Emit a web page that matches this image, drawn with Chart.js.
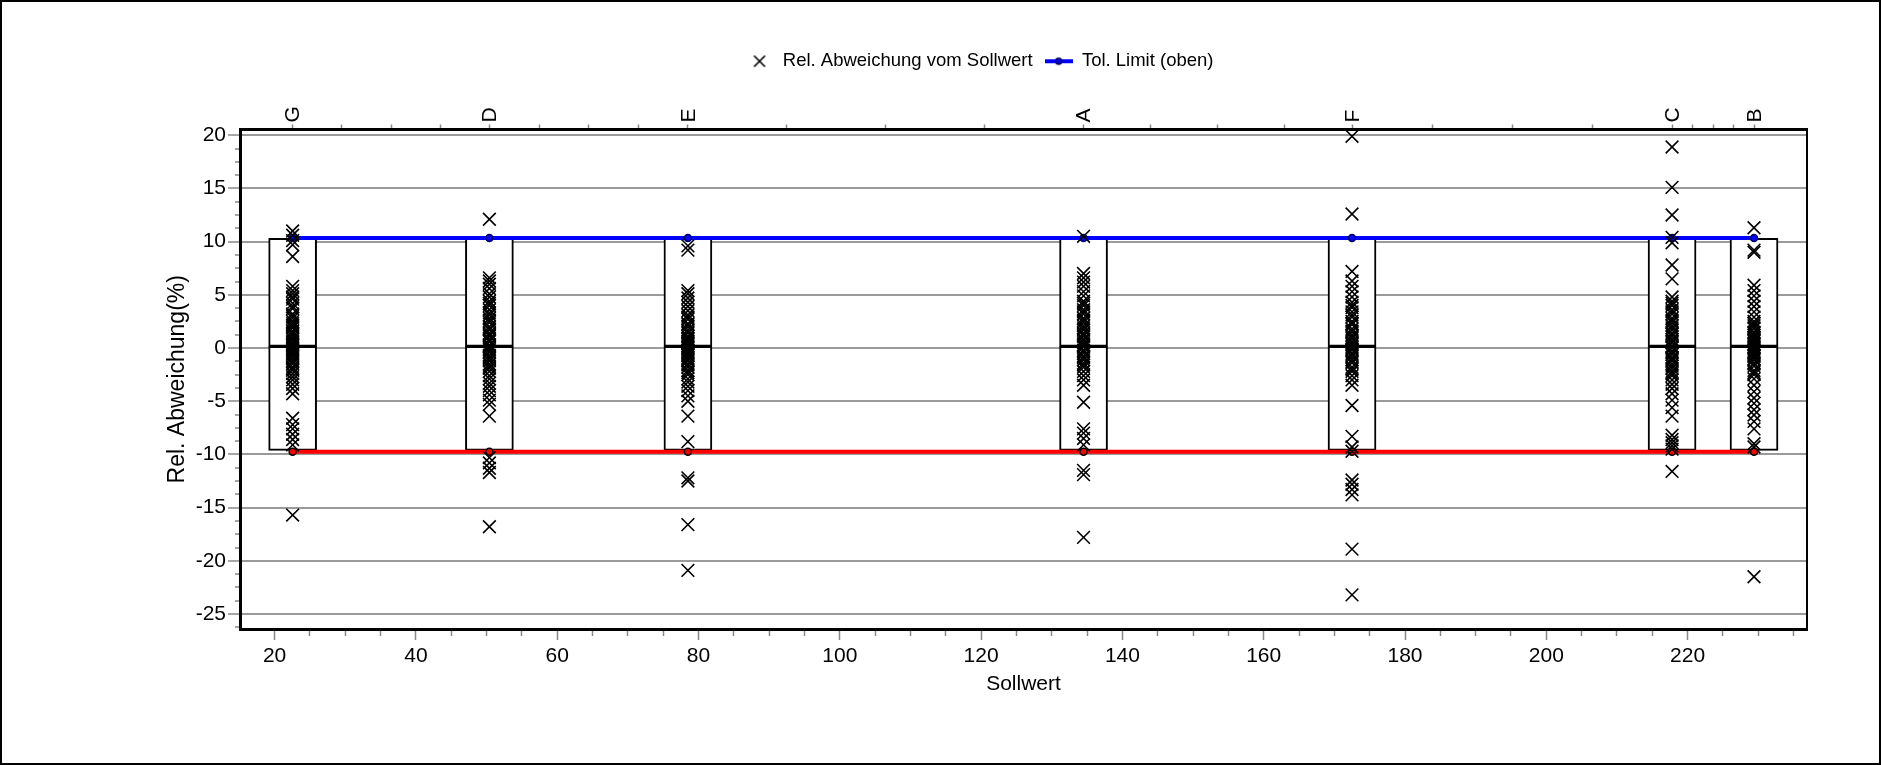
<!DOCTYPE html>
<html>
<head>
<meta charset="utf-8">
<title>Rel. Abweichung vom Sollwert</title>
<script src="https://cdn.jsdelivr.net/npm/chart.js@4.4.1/dist/chart.umd.min.js"></script>
<style>
  html, body { margin: 0; padding: 0; background: #fff; }
  #frame { position: absolute; left: 0; top: 0; width: 1881px; height: 765px; border: 2px solid #000; box-sizing: border-box; }
  canvas { display: block; }
</style>
</head>
<body>
<div id="frame"><canvas id="chart" width="1877" height="761"></canvas></div>
<script>
// samples and their Sollwert (x position)
const categories = ['G', 'D', 'E', 'A', 'F', 'C', 'B'];
const sollwert = [22.55, 50.4, 78.5, 134.5, 172.5, 217.8, 229.4];

// relative deviation in %
const devG = [11.0, 10.6, 10.1, 9.7, 8.6, 5.8, 5.4, 5.1, 4.8, 4.6, 4.2, 3.9, 3.7, 3.2, 3.0, 2.8, 2.5, 2.3, 2.1, 1.9, 1.6, 1.4, 1.3, 1.1, 0.9, 0.8, 0.6, 0.4, 0.3, 0.2, 0.0, -0.1, -0.3, -0.5, -0.6, -0.8, -1.0, -1.2, -1.3, -1.5, -1.8, -2.0, -2.1, -2.4, -2.7, -3.0, -3.4, -3.8, -4.3, -6.6, -7.2, -7.6, -8.1, -8.6, -9.1, -15.7];
const devD = [12.1, 6.6, 6.3, 6.0, 5.6, 5.1, 4.8, 4.4, 4.2, 4.0, 3.6, 3.3, 3.1, 2.8, 2.6, 2.4, 2.0, 1.8, 1.7, 1.4, 1.2, 1.1, 0.8, 0.7, 0.6, 0.3, 0.2, 0.1, -0.1, -0.3, -0.4, -0.7, -0.9, -1.0, -1.2, -1.5, -1.7, -1.9, -2.2, -2.6, -2.9, -3.3, -3.6, -4.0, -4.4, -4.9, -5.3, -6.4, -10.3, -10.8, -11.3, -11.7, -16.8];
const devE = [9.6, 9.2, 5.4, 5.1, 4.7, 4.3, 3.9, 3.5, 3.1, 2.9, 2.7, 2.3, 2.2, 2.0, 1.7, 1.5, 1.4, 1.1, 0.9, 0.8, 0.6, 0.5, 0.4, 0.2, 0.1, 0.0, -0.2, -0.3, -0.4, -0.6, -0.7, -0.9, -1.1, -1.2, -1.5, -1.6, -1.8, -2.1, -2.3, -2.5, -2.9, -3.2, -3.6, -4.0, -4.5, -5.0, -6.4, -8.8, -12.2, -12.5, -16.6, -20.9];
const devA = [10.5, 7.0, 6.6, 6.2, 5.8, 5.3, 4.9, 4.4, 4.2, 4.0, 3.6, 3.4, 3.2, 2.8, 2.6, 2.4, 2.1, 1.9, 1.7, 1.4, 1.2, 1.1, 0.8, 0.7, 0.5, 0.3, 0.2, 0.1, -0.2, -0.3, -0.5, -0.8, -0.9, -1.1, -1.4, -1.6, -1.8, -2.2, -2.6, -3.0, -3.5, -5.1, -7.6, -8.0, -8.5, -9.1, -11.5, -11.9, -17.8];
const devF = [19.9, 12.6, 7.2, 6.3, 5.8, 5.3, 4.8, 4.3, 4.0, 3.8, 3.4, 3.1, 2.9, 2.5, 2.3, 2.2, 1.8, 1.6, 1.5, 1.2, 1.0, 0.9, 0.6, 0.4, 0.3, 0.1, -0.1, -0.2, -0.5, -0.6, -0.8, -1.1, -1.3, -1.4, -1.8, -2.0, -2.2, -2.6, -3.0, -3.5, -5.4, -8.3, -9.3, -9.7, -12.4, -12.8, -13.3, -13.8, -18.9, -23.2];
const devC = [18.9, 15.1, 12.5, 10.4, 9.9, 7.8, 6.5, 4.8, 4.4, 4.2, 4.0, 3.6, 3.4, 3.2, 2.8, 2.6, 2.4, 2.1, 1.9, 1.7, 1.4, 1.3, 1.1, 0.8, 0.6, 0.5, 0.2, 0.1, 0.0, -0.3, -0.4, -0.6, -0.9, -1.0, -1.2, -1.5, -1.7, -1.9, -2.2, -2.4, -2.6, -3.0, -3.4, -3.8, -4.3, -4.9, -5.6, -6.4, -8.2, -8.6, -8.9, -9.2, -9.5, -11.6];
const devB = [11.3, 9.2, 9.0, 5.9, 5.4, 4.9, 4.4, 3.9, 3.4, 2.9, 2.5, 2.3, 2.1, 1.9, 1.8, 1.5, 1.4, 1.2, 1.0, 0.9, 0.7, 0.6, 0.4, 0.3, 0.1, 0.0, -0.2, -0.4, -0.5, -0.7, -0.8, -1.0, -1.1, -1.4, -1.5, -1.7, -2.1, -2.3, -2.5, -2.9, -3.5, -4.1, -4.7, -5.2, -5.8, -6.3, -6.9, -7.6, -9.0, -9.3, -21.5];
const deviations = [devG, devD, devE, devA, devF, devC, devB];

// tolerance limits and box bounds per sample
const tolUpper = [10.35, 10.35, 10.35, 10.35, 10.35, 10.35, 10.35];
const tolLower = [-9.75, -9.75, -9.75, -9.75, -9.75, -9.75, -9.75];
const boxHigh = [10.3, 10.3, 10.3, 10.3, 10.3, 10.3, 10.3];
const boxMid = [0.15, 0.15, 0.15, 0.15, 0.15, 0.15, 0.15];
const boxLow = [-9.62, -9.62, -9.62, -9.62, -9.62, -9.62, -9.62];

// labelled ticks
const xLabelValues = [20, 40, 60, 80, 100, 120, 140, 160, 180, 200, 220];
const yLabelValues = [-25, -20, -15, -10, -5, 0, 5, 10, 15, 20];

const xMin = 15.1, xMax = 236.9;
const yMin = -26.41, yMax = 20.54;

const seriesLabel = 'Rel. Abweichung vom Sollwert';
const tolLabel = 'Tol. Limit (oben)';

// layout (canvas px)
const padL = 150, padR = 72, padT = 38;

Chart.defaults.font.family = '"Liberation Sans", Arial, sans-serif';
Chart.defaults.color = '#000';

const points = [];
categories.forEach((c, i) => {
  deviations[i].forEach(v => points.push({ x: sollwert[i], y: v }));
});

// ticks of the top axis: each sample plus three between neighbours
const topTickValues = [];
sollwert.forEach((s, i) => {
  topTickValues.push(s);
  if (i < sollwert.length - 1) {
    for (let k = 1; k < 4; k++) topTickValues.push(s + (sollwert[i + 1] - s) * k / 4);
  }
});

// legend icons
function legendIcon(kind) {
  const c = document.createElement('canvas');
  c.width = 28; c.height = 14;
  const g = c.getContext('2d');
  if (kind === 'cross') {
    g.strokeStyle = '#000'; g.lineWidth = 1.6;
    g.beginPath();
    g.moveTo(8.5, 1.5); g.lineTo(19.5, 12.5);
    g.moveTo(19.5, 1.5); g.lineTo(8.5, 12.5);
    g.stroke();
  } else {
    g.strokeStyle = '#0000ff'; g.lineWidth = 4;
    g.beginPath(); g.moveTo(0, 7); g.lineTo(28, 7); g.stroke();
    g.fillStyle = '#0000ff'; g.strokeStyle = '#000060'; g.lineWidth = 1.5;
    g.beginPath(); g.arc(14, 7, 3, 0, Math.PI * 2); g.fill(); g.stroke();
  }
  return c;
}

const isMajor = (list, c) => c.tick && list.includes(c.tick.value);

new Chart(document.getElementById('chart'), {
  type: 'scatter',
  data: {
    datasets: [
      {
        label: seriesLabel,
        data: points,
        order: 1,
        pointStyle: 'crossRot',
        pointRadius: 9,
        pointHoverRadius: 9,
        borderColor: '#000',
        backgroundColor: '#000',
        borderWidth: 1.6
      },
      {
        type: 'line',
        label: tolLabel,
        data: sollwert.map((x, i) => ({ x: x, y: tolUpper[i] })),
        order: 2,
        borderColor: '#0000ff',
        borderWidth: 4,
        pointRadius: 3.5,
        pointBackgroundColor: '#0000ff',
        pointBorderColor: '#000060',
        pointBorderWidth: 1.5,
        fill: false,
        tension: 0
      },
      {
        type: 'line',
        label: 'Tol. Limit (unten)',
        data: sollwert.map((x, i) => ({ x: x, y: tolLower[i] })),
        order: 2,
        borderColor: '#ff0000',
        borderWidth: 4,
        pointRadius: 3.5,
        pointBackgroundColor: '#ff0000',
        pointBorderColor: '#000',
        pointBorderWidth: 1.5,
        fill: false,
        tension: 0
      },
      {
        type: 'bar',
        label: 'box oben',
        data: sollwert.map((x, i) => ({ x: x, y: [boxMid[i], boxHigh[i]] })),
        order: 3,
        grouped: false,
        barThickness: 48,
        backgroundColor: '#fff',
        borderColor: '#000',
        borderWidth: 2,
        borderSkipped: false
      },
      {
        type: 'bar',
        label: 'box unten',
        data: sollwert.map((x, i) => ({ x: x, y: [boxLow[i], boxMid[i]] })),
        order: 3,
        grouped: false,
        barThickness: 48,
        backgroundColor: '#fff',
        borderColor: '#000',
        borderWidth: 2,
        borderSkipped: false
      }
    ]
  },
  options: {
    responsive: false,
    animation: false,
    devicePixelRatio: 1,
    events: [],
    layout: { padding: { left: padL, right: padR, top: padT, bottom: 0 } },
    plugins: {
      tooltip: { enabled: false },
      legend: {
        position: 'top',
        align: 'center',
        labels: {
          font: { size: 18.5 },
          color: '#000',
          padding: 12,
          usePointStyle: true,
          pointStyleWidth: 28,
          generateLabels: () => [
            { text: seriesLabel, pointStyle: legendIcon('cross'), fillStyle: '#000', strokeStyle: '#000', lineWidth: 0, hidden: false, datasetIndex: 0, fontColor: '#000' },
            { text: tolLabel, pointStyle: legendIcon('line'), fillStyle: '#0000ff', strokeStyle: '#0000ff', lineWidth: 0, hidden: false, datasetIndex: 1, fontColor: '#000' }
          ]
        }
      }
    },
    scales: {
      x: {
        type: 'linear',
        position: 'bottom',
        min: xMin,
        max: xMax,
        offset: false,
        afterFit: (s) => { s.height = 134; },
        border: { color: '#000', width: 3 },
        grid: {
          offset: false,
          drawOnChartArea: false,
          tickLength: 11,
          tickColor: '#888',
          tickWidth: 1.5,
          tickBorderDash: (c) => isMajor(xLabelValues, c) ? [] : [5, 100]
        },
        ticks: {
          stepSize: 5,
          includeBounds: false,
          autoSkip: false,
          maxRotation: 0,
          padding: 4,
          font: { size: 21 },
          callback: (v) => xLabelValues.includes(v) ? v : ''
        },
        title: { display: true, text: 'Sollwert', font: { size: 21 }, padding: { top: 0, bottom: 66 } }
      },
      x2: {
        type: 'linear',
        position: 'top',
        min: xMin,
        max: xMax,
        offset: false,
        afterBuildTicks: (s) => { s.ticks = topTickValues.map(v => ({ value: v })); },
        afterFit: (s) => { s.height = 49; },
        border: { color: '#000', width: 3 },
        grid: { offset: false, drawOnChartArea: false, tickLength: 5, tickColor: '#888', tickWidth: 1.5 },
        ticks: {
          autoSkip: false,
          minRotation: 90,
          maxRotation: 90,
          padding: 2,
          labelOffset: 26,
          font: { size: 21 },
          callback: (v) => {
            const i = sollwert.indexOf(v);
            return i >= 0 ? categories[i] : '';
          }
        }
      },
      y: {
        type: 'linear',
        position: 'left',
        min: yMin,
        max: yMax,
        afterFit: (s) => { s.width = 238 - padL; },
        border: { color: '#000', width: 3 },
        grid: {
          color: (c) => isMajor(yLabelValues, c) ? '#9a9a9a' : 'rgba(0,0,0,0)',
          lineWidth: 2,
          tickLength: 12,
          tickColor: '#888',
          tickWidth: 1.5,
          tickBorderDash: (c) => isMajor(yLabelValues, c) ? [] : [0, 7, 5, 100]
        },
        ticks: {
          stepSize: 1.25,
          includeBounds: false,
          autoSkip: false,
          padding: 2,
          font: { size: 21 },
          callback: (v) => yLabelValues.includes(v) ? v : ''
        },
        title: { display: true, text: 'Rel. Abweichung(%)', font: { size: 23 }, padding: { top: Math.max(0, 175.5 - 13.8 - padL), bottom: 0 } }
      },
      yR: {
        type: 'linear',
        position: 'right',
        min: yMin,
        max: yMax,
        afterFit: (s) => { s.width = 0; },
        border: { color: '#000', width: 2 },
        grid: { drawOnChartArea: false, drawTicks: false },
        ticks: { display: false }
      }
    }
  }
});
</script>
</body>
</html>
